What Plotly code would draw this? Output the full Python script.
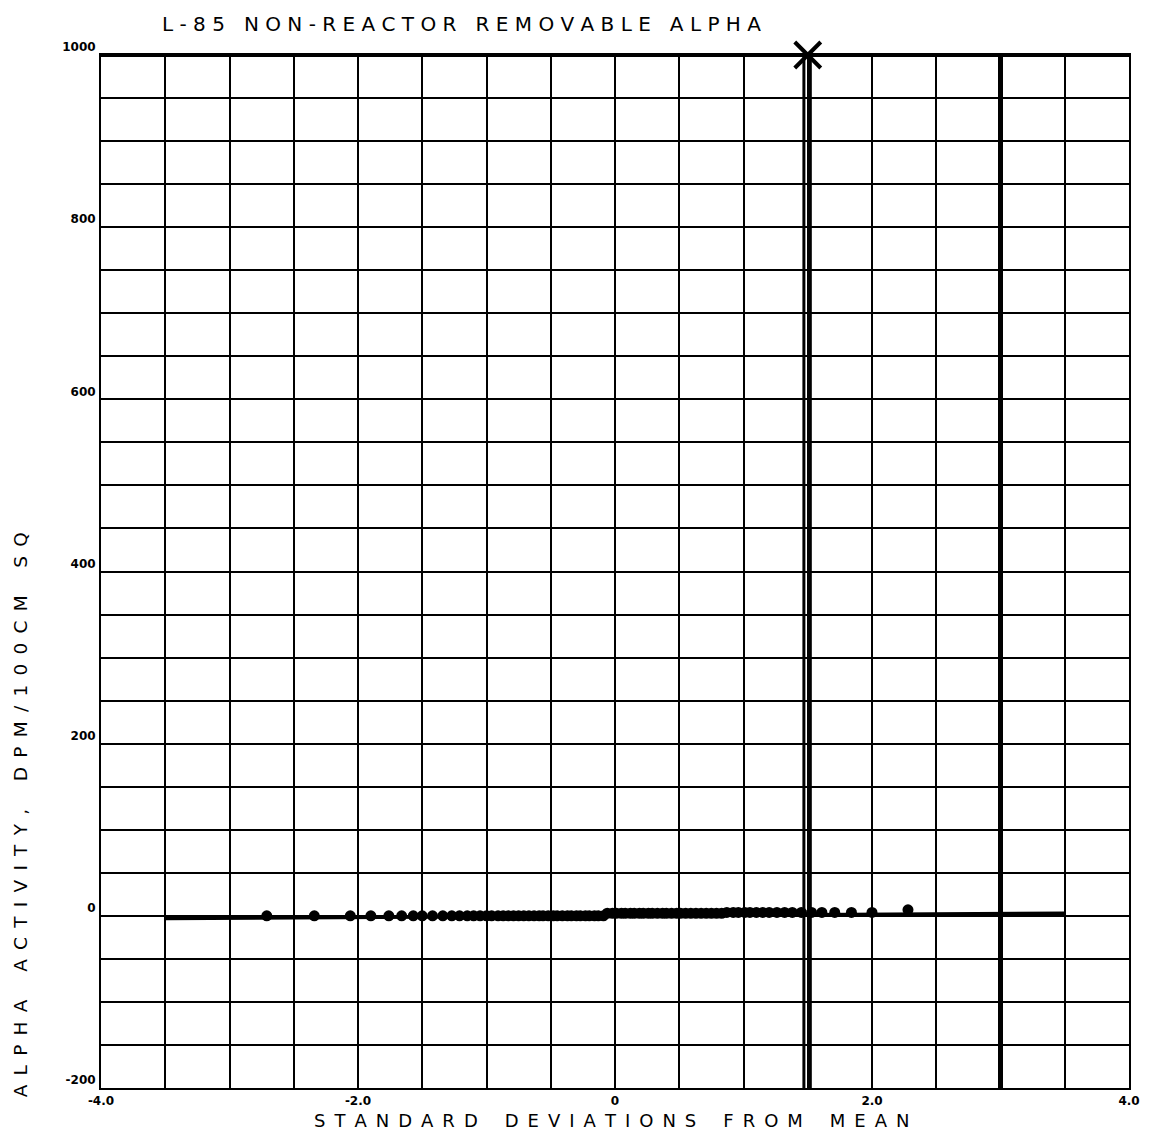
import plotly.graph_objects as go

# ---- data ----
sd_x = [-2.71, -2.34, -2.06, -1.90, -1.76, -1.66, -1.57, -1.50, -1.42, -1.34,
        -1.27, -1.21, -1.15, -1.10, -1.05, -1.00, -0.96, -0.91, -0.87, -0.83,
        -0.79, -0.75, -0.71, -0.67, -0.63, -0.59, -0.56, -0.52, -0.48, -0.45,
        -0.41, -0.37, -0.34, -0.30, -0.27, -0.23, -0.20, -0.16, -0.13, -0.09,
        -0.06, -0.02, 0.01, 0.05, 0.08, 0.12, 0.15, 0.19, 0.22, 0.26,
        0.29, 0.33, 0.37, 0.40, 0.44, 0.48, 0.51, 0.55, 0.59, 0.63,
        0.67, 0.71, 0.75, 0.79, 0.83, 0.87, 0.92, 0.96, 1.01, 1.05,
        1.10, 1.15, 1.20, 1.26, 1.32, 1.38, 1.45, 1.53, 1.61, 1.71,
        1.84, 2.00, 2.28]
activity = [0, 0, 0, 0, 0, 0, 0, 0, 0, 0,
            0, 0, 0, 0, 0, 0, 0, 0, 0, 0,
            0, 0, 0, 0, 0, 0, 0, 0, 0, 0,
            0, 0, 0, 0, 0, 0, 0, 0, 0, 0,
            3, 3, 3, 3, 3, 3, 3, 3, 3, 3,
            3, 3, 3, 3, 3, 3, 3, 3, 3, 3,
            3, 3, 3, 3, 3, 4, 4, 4, 4, 4,
            4, 4, 4, 4, 4, 4, 4, 4, 4, 4,
            4, 4, 7]
fit_x = [-3.5, 3.5]
fit_y = [-3, 3]
mark_x = [1.5]
mark_y = [1000]
limit_a = [1.47, 1.52]   # double vertical line
limit_b = [3.0]          # thick vertical line

x_tickvals = [-4.0, -3.5, -3.0, -2.5, -2.0, -1.5, -1.0, -0.5, 0.0, 0.5, 1.0, 1.5, 2.0, 2.5, 3.0, 3.5, 4.0]
x_ticktext = ["-4.0", "", "", "", "-2.0", "", "", "", "0", "", "", "", "2.0", "", "", "", "4.0"]
y_tickvals = list(range(-200, 1001, 50))
y_ticktext = [str(v) if v % 200 == 0 else "" for v in y_tickvals]

title_text = "L-85 NON-REACTOR REMOVABLE ALPHA"
x_title = "STANDARD DEVIATIONS FROM MEAN"
y_title = "ALPHA ACTIVITY, DPM/100CM SQ"


def spaced(s, gap=" ", wordgap="   "):
    return wordgap.join(gap.join(w) for w in s.split(" "))


fig = go.Figure()

fig.add_trace(go.Scatter(x=fit_x, y=fit_y, mode="lines",
                         line=dict(color="black", width=3.5), showlegend=False))
fig.add_trace(go.Scatter(x=sd_x, y=activity, mode="markers",
                         marker=dict(color="black", size=11), showlegend=False))
fig.add_trace(go.Scatter(x=mark_x, y=mark_y, mode="markers", cliponaxis=False,
                         marker=dict(symbol="x-thin", size=26, line=dict(color="black", width=4)),
                         showlegend=False))

for xv in limit_a:
    fig.add_shape(type="line", x0=xv, x1=xv, y0=-200, y1=1000, xref="x", yref="y",
                  line=dict(color="black", width=3))
for xv in limit_b:
    fig.add_shape(type="line", x0=xv, x1=xv, y0=-200, y1=1000, xref="x", yref="y",
                  line=dict(color="black", width=5))
# thick top border
fig.add_shape(type="line", x0=-4, x1=4, y0=1000, y1=1000, xref="x", yref="y",
              line=dict(color="black", width=4))

fig.update_layout(
    width=1152, height=1140,
    margin=dict(l=101, r=16, t=55, b=52),
    paper_bgcolor="white", plot_bgcolor="white",
    font=dict(family="DejaVu Sans", color="black"),
    showlegend=False,
)
fig.update_xaxes(range=[-4, 4], tickvals=x_tickvals, ticktext=x_ticktext,
                 showgrid=True, gridcolor="black", gridwidth=2,
                 showline=True, linecolor="black", linewidth=2, mirror=True,
                 zeroline=False, ticks="",
                 tickfont=dict(family="DejaVu Sans", size=12, weight="bold"),
                 ticklabelstandoff=1)
fig.update_yaxes(range=[-200, 1000], tickvals=y_tickvals, ticktext=y_ticktext,
                 showgrid=True, gridcolor="black", gridwidth=2,
                 showline=True, linecolor="black", linewidth=2, mirror=True,
                 zeroline=False, ticks="",
                 tickfont=dict(family="DejaVu Sans", size=12, weight="bold"),
                 ticklabelshift=-8, ticklabelstandoff=1)

fig.add_annotation(text=spaced(title_text), xref="paper", yref="paper",
                   x=0.057, y=1.0, xanchor="left", yanchor="bottom", yshift=17,
                   showarrow=False, font=dict(family="DejaVu Sans", size=20))
fig.add_annotation(text=spaced(x_title, "\u2002", "\u2002" * 3), xref="paper", yref="paper",
                   x=0.497, y=0, xanchor="center", yanchor="top", yshift=-20,
                   showarrow=False, font=dict(family="DejaVu Sans", size=18))
fig.add_annotation(text=spaced(y_title, "\u2002", "\u2002" * 3), xref="paper", yref="paper",
                   x=0, y=0.264, xanchor="center", yanchor="middle", xshift=-81,
                   textangle=-90, showarrow=False,
                   font=dict(family="DejaVu Sans", size=18.5))

fig.write_html("out.html")
